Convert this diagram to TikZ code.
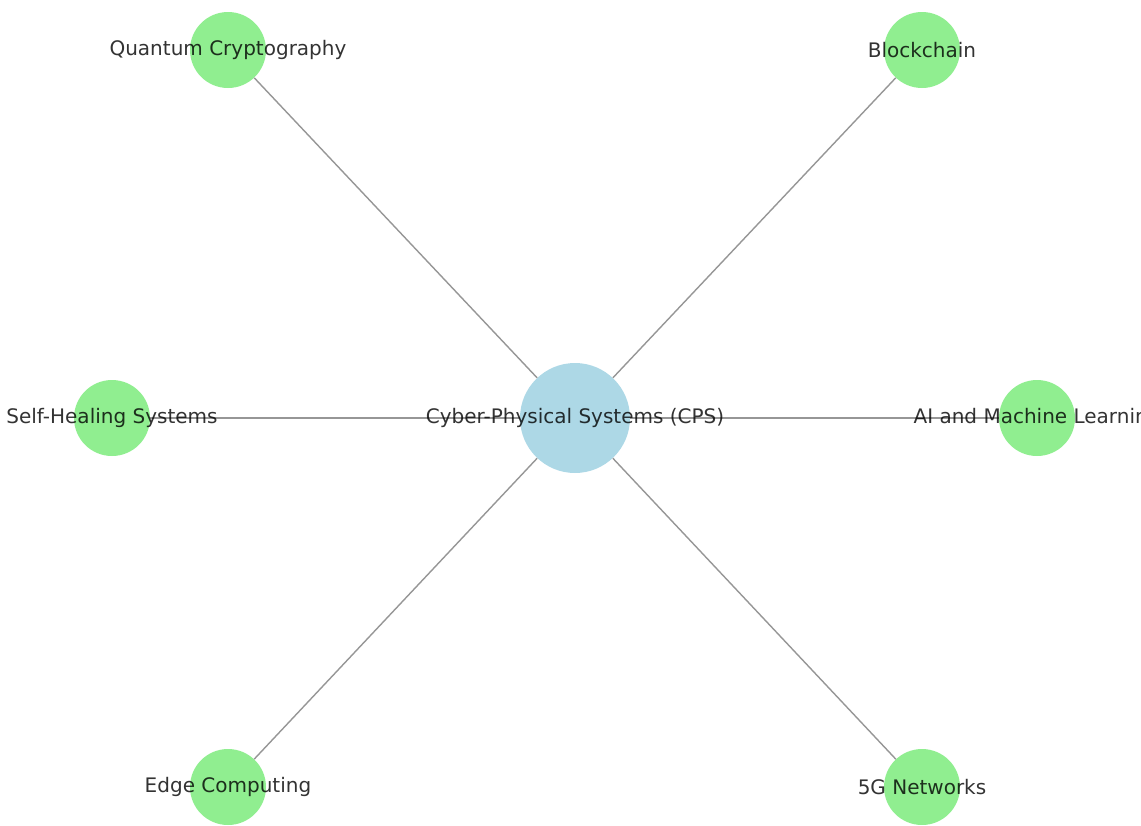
\documentclass[tikz,border=0pt]{standalone}
\usepackage{fontspec}
\setmainfont{DejaVu Sans}
\usepackage{xcolor}
\usetikzlibrary{calc}

\definecolor{hubblue}{HTML}{ADD8E6}
\definecolor{leafgreen}{HTML}{90EE90}
\definecolor{edgegray}{RGB}{150,150,150}

\tikzset{
	hub/.style={circle, fill=hubblue, minimum size=110pt, inner sep=0pt},
	leaf/.style={circle, fill=leafgreen, minimum size=76pt, inner sep=0pt},
	link/.style={draw=edgegray, line width=1.4pt},
	lbl/.style={text=black, text opacity=0.8, font=\fontsize{20}{24}\selectfont, inner sep=0pt}
}

\begin{document}
\begin{tikzpicture}[x=1pt, y=-1pt]

	\useasboundingbox (0,0) rectangle (1141,825);
	\clip (0,0) rectangle (1141,825);

	% Nodi
	\node[hub]  (cps) at (575,418) {};
	\node[leaf] (qc)  at (228,50)  {};
	\node[leaf] (bc)  at (922,50)  {};
	\node[leaf] (sh)  at (112,418) {};
	\node[leaf] (ai)  at (1037,418) {};
	\node[leaf] (ec)  at (228,787) {};
	\node[leaf] (fg)  at (922,787) {};

	% Archi
	\foreach \n in {qc,bc,sh,ai,ec,fg}
	{
	\draw[link] (cps) -- (\n);
	}

	% Etichette
	\node[lbl] (cpsl) at (cps) {Cyber-Physical Systems (CPS)};
	\node[lbl] (qcl)  at (qc)  {Quantum Cryptography};
	\node[lbl] (bcl)  at (bc)  {Blockchain};
	\node[lbl] (shl)  at (sh)  {Self-Healing Systems};
	\node[lbl] (ail)  at (ai)  {AI and Machine Learning};
	\node[lbl] (ecl)  at (ec)  {Edge Computing};
	\node[lbl] (fgl)  at (fg)  {5G Networks};

\end{tikzpicture}
\end{document}
